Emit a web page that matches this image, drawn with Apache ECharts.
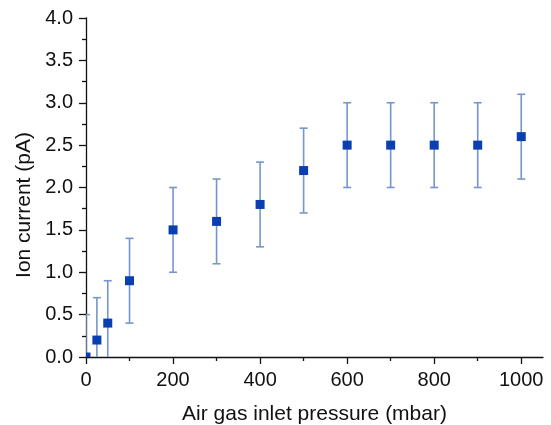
<!DOCTYPE html>
<html>
<head>
<meta charset="utf-8">
<script src="https://cdn.jsdelivr.net/npm/echarts@6/dist/echarts.min.js"></script>
<style>html,body{margin:0;padding:0;background:#fff}#c{width:551px;height:425px}</style>
</head>
<body>
<div id="c"></div>
<script>
// Data
var pressure = [0, 25, 50, 100, 200, 300, 400, 500, 600, 700, 800, 900, 1000];
var current  = [0.0, 0.2, 0.4, 0.9, 1.5, 1.6, 1.8, 2.2, 2.5, 2.5, 2.5, 2.5, 2.6];
var errorBar = [0.5, 0.5, 0.5, 0.5, 0.5, 0.5, 0.5, 0.5, 0.5, 0.5, 0.5, 0.5, 0.5];
var xTickValues = [0, 200, 400, 600, 800, 1000];
var xMinorValues = [100, 300, 500, 700, 900];

var errData = pressure.map(function (p, i) { return [p, current[i] - errorBar[i], current[i] + errorBar[i]]; });
var ptData = pressure.map(function (p, i) { return [p, current[i]]; });

var font = 'Liberation Sans, Arial, sans-serif';
var chart = echarts.init(document.getElementById('c'));
chart.setOption({
  animation: false,
  grid: { left: 86, right: 8, top: 18, bottom: 68, containLabel: false, outerBoundsMode: 'none' },
  xAxis: [{
    type: 'value', min: 0, max: 1050,
    name: 'Air gas inlet pressure (mbar)', nameLocation: 'middle', nameGap: 47,
    nameTextStyle: { fontFamily: font, fontSize: 21, color: '#111' },
    axisLine: { lineStyle: { color: '#111', width: 1.3 } },
    axisTick: { customValues: xTickValues, length: 7, inside: false, lineStyle: { color: '#111', width: 1.3 } },
    axisLabel: { customValues: xTickValues, fontFamily: font, fontSize: 20, color: '#111', margin: 13, formatter: function (v) { return String(v); } },
    splitLine: { show: false }
  }, {
    type: 'value', min: 0, max: 1050, position: 'bottom',
    axisLine: { show: false },
    axisTick: { customValues: xMinorValues, length: 4, lineStyle: { color: '#111', width: 1.3 } },
    axisLabel: { show: false },
    splitLine: { show: false }
  }],
  yAxis: {
    type: 'value', min: 0, max: 4, interval: 0.5,
    name: 'Ion current (pA)', nameLocation: 'middle', nameGap: 49,
    nameTextStyle: { fontFamily: font, fontSize: 21, color: '#111', padding: [0, 35, 0, 0] },
    axisLine: { show: true, lineStyle: { color: '#111', width: 1.3 } },
    axisTick: { show: true, length: 7, lineStyle: { color: '#111', width: 1.3 } },
    minorTick: { show: true, splitNumber: 2, length: 4, lineStyle: { color: '#111', width: 1.3 } },
    axisLabel: { fontFamily: font, fontSize: 20, color: '#111', margin: 13, formatter: function (v) { return v.toFixed(1); } },
    splitLine: { show: false }
  },
  series: [{
    type: 'custom', clip: true, z: 3,
    data: errData,
    renderItem: function (params, api) {
      var x = api.value(0);
      var lo = api.coord([x, api.value(1)]);
      var hi = api.coord([x, api.value(2)]);
      var hw = 4;
      var st = { stroke: '#7596cc', lineWidth: 1.6 };
      return { type: 'group', children: [
        { type: 'line', shape: { x1: hi[0], y1: hi[1], x2: lo[0], y2: lo[1] }, style: st },
        { type: 'line', shape: { x1: hi[0] - hw, y1: hi[1], x2: hi[0] + hw, y2: hi[1] }, style: st },
        { type: 'line', shape: { x1: lo[0] - hw, y1: lo[1], x2: lo[0] + hw, y2: lo[1] }, style: st }
      ] };
    }
  }, {
    type: 'custom', clip: true, z: 4,
    data: ptData,
    renderItem: function (params, api) {
      var c = api.coord([api.value(0), api.value(1)]);
      var s = 9;
      return { type: 'rect', shape: { x: c[0] - s / 2, y: c[1] - s / 2, width: s, height: s }, style: { fill: '#0a3fb2' } };
    }
  }]
});
</script>
</body>
</html>
